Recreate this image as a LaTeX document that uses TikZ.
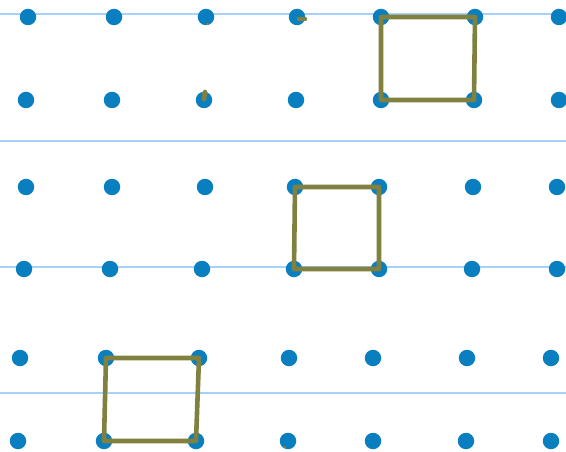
\documentclass[tikz,border=0pt]{standalone}
\usepackage{tikz}
\usetikzlibrary{calc}
\definecolor{dotblue}{HTML}{0A7FC0}
\definecolor{ruleblue}{HTML}{A8D0FA}
\definecolor{inkolive}{HTML}{80803F}
\tikzset{
  g pic/.style={x=1pt, y=-1pt},
  g dot/.style={circle, fill=dotblue, minimum size=16.5pt, inner sep=0pt},
  g rule/.style={ruleblue, line width=1.5pt},
  g ink/.style={inkolive, line width=4.6pt, line cap=round, line join=round},
}

\begin{document}
\begin{tikzpicture}[g pic]
\useasboundingbox (0, 0) rectangle (566, 452);
% ---- ruled lines ----
\foreach \y in {14, 141, 267, 393}
  \draw[g rule] (0, \y) -- (566, \y);
% ---- dot grid ----
\foreach \r/\y/\xs in {1/17/{28,114,206,297,381,475,559},
                       2/100/{26,112,204,296,381,474,559},
                       3/187/{26,112,205,295,379,473,557},
                       4/269/{24,110,202,294,379,472,557},
                       5/358/{20,106,199,289,373,467,551},
                       6/441/{18,104,196,288,373,466,551}}
  \foreach \x [count=\c] in \xs
    \node[g dot] (d\r\c) at (\x, \y) {};
% ---- squares ----
\draw[g ink] (d15.center) -- (d16.center) -- (d26.center) -- (d25.center) -- cycle;
\draw[g ink] (d34.center) -- (d35.center) -- (d45.center) -- (d44.center) -- cycle;
\draw[g ink] (d52.center) -- (d53.center) -- (d63.center) -- (d62.center) -- cycle;
% ---- stray marks ----
\draw[g ink] ($(d14)+(2,2)$) -- ++(6,0);
\draw[g ink] ($(d23)+(1,-8)$) -- ++(-1,7);
\draw[g ink, line width=2.5pt] ($(d13)+(1,7)$) -- ++(1,0);
\draw[g ink, line width=2.5pt] ($(d64)+(-4,6)$) -- ++(1,0);
\end{tikzpicture}
\end{document}
